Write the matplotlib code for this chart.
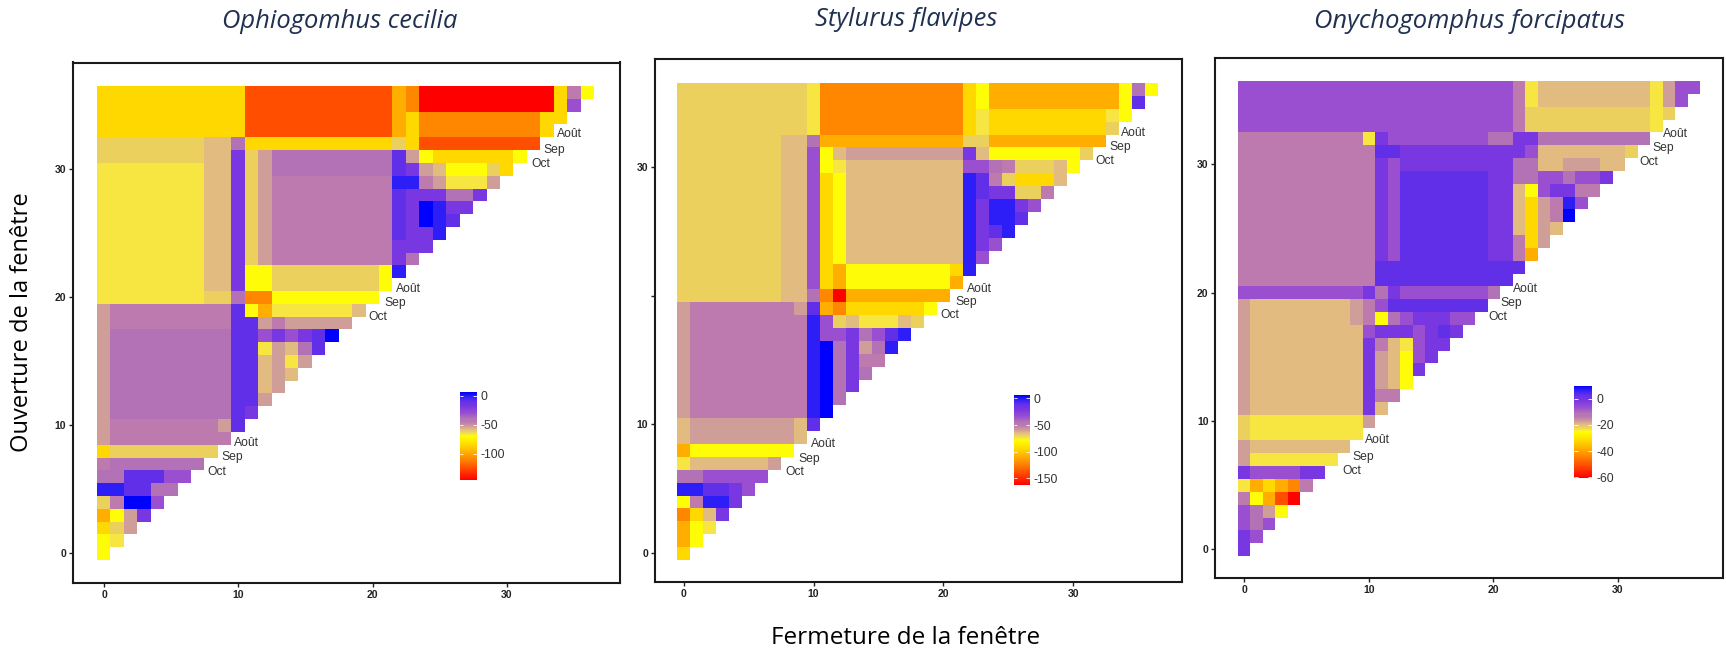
import matplotlib
matplotlib.use("Agg")
import matplotlib.pyplot as plt
import numpy as np
from matplotlib.colors import LinearSegmentedColormap, Normalize

W, H = 1726, 653

# levels: 0 = bright blue top of the colour bar, 1 = red bottom
levels = dict(A=0.0, B=0.05, C=0.10, D=0.16, E=0.24, F=0.30, G=0.34, H=0.39, I=0.42,
              J=0.45, K=0.48, L=0.50, M=0.60, N=0.68, O=0.76, P=0.86, Q=1.0)
colours = ["#0000ff", "#3020f8", "#6530e8", "#7a38e0", "#9a50d0", "#b474b6", "#bc7ab0",
           "#d0a098", "#e2bc80", "#ecd060", "#f8e840", "#ffff00", "#ffd800", "#ffb000",
           "#ff8800", "#ff5000", "#ff0000"]

# each row is written from y=36 down to y=0, as letter + run length, starting at x=0
rows_cecilia = [
    "M11 P11 N1 O1 Q10 M1 G1 L1",
    "M11 P11 N1 O1 Q10 M1 E1",
    "M11 P11 N1 M1 O9 M2",
    "M11 P11 N1 M1 O9 M1",
    "J8 I2 F1 M11 J1 M1 P9",
    "J8 I2 D1 J1 H1 F9 C1 H1 L1 M6 L1",
    "K8 I2 D1 J1 H1 F9 C1 D1 H1 I1 L3 J1 M1",
    "K8 I2 D1 J1 H1 G9 B2 G1 H1 K3 H1",
    "K8 I2 D1 J1 H1 G9 C1 D1 D2 F2 D1",
    "K8 I2 D1 J1 H1 G9 C1 D1 A1 B1 D2",
    "K8 I2 D1 J1 H1 G9 C1 D1 A1 B1 C1",
    "K8 I2 D1 J1 H1 G9 C1 D1 D1 B1",
    "K8 I2 D1 J1 H1 G9 D3",
    "K8 I2 D1 J1 H1 G9 D1 F1",
    "K8 I2 D1 L2 J8 L1 B1",
    "K8 I2 D1 L2 J8 L1",
    "K8 J2 F1 O2 L8",
    "H1 G9 C1 L1 N1 K6 I1",
    "H1 G9 C2 H1 G1 H5",
    "H1 F9 C2 E1 D1 E1 D1 C1 A1",
    "H1 F9 C2 K1 H1 I1 F1 C1",
    "H1 F9 C2 I1 H1 K1 H1",
    "H1 F9 C2 I1 H1 I1",
    "H1 F9 C2 I1 H1",
    "H1 F9 C2 H1",
    "H1 F9 C1 D1",
    "H1 G8 H1 C1",
    "H1 G9",
    "M1 J8",
    "G1 F7",
    "F2 C3 E2",
    "B2 C2 F2",
    "J1 G1 A2 E1",
    "N1 L1 H1 D1",
    "M1 J1 H1",
    "L1 K1",
    "L1",
]

rows_flavipes = [
    "J10 K1 O11 M1 L1 N10 L1 F1 L1",
    "J10 K1 O11 M1 L1 N10 L1 C1",
    "J10 K1 O11 M1 K1 M9 K1 L1",
    "J10 K1 O11 M1 K1 M9 J1",
    "J8 I2 F1 N11 J2 N9",
    "J8 I2 E1 L1 I1 H9 D1 I1 L7 J1",
    "J8 I2 E1 L1 K1 I9 E2 F1 G1 J3 I1 L1",
    "J8 I2 E1 M1 L1 I9 B1 C1 G1 J1 M3 I1",
    "J8 I2 E1 M1 L1 I9 B1 C1 D2 J2 G1",
    "J8 I2 E1 M1 L1 I9 B1 D1 B2 D1 E1",
    "J8 I2 E1 M1 L1 I9 B1 D1 B2 C1",
    "J8 I2 E1 M1 L1 I9 B1 D1 C1 B1",
    "J8 I2 E1 M1 L1 I9 B1 D1 E1",
    "J8 I2 E1 M1 L1 I9 B1 E1",
    "J8 I2 E1 M1 N1 L8 M1 B1",
    "J8 I2 E1 M1 N1 L8 N1",
    "J8 I2 F1 O1 Q1 N8",
    "H1 G8 H1 C1 N1 O1 M6 L1",
    "H1 G9 B1 E1 J1 I1 K3 I1 J1",
    "H1 G9 B1 E1 E1 D1 F1 E1 C1 B1",
    "H1 G9 B1 A1 F1 D1 H1 F1 B1",
    "H1 G9 B1 A1 F1 D1 G2",
    "H1 G9 B1 A1 F1 D1 F1",
    "H1 G9 B1 A1 F1 D1",
    "H1 G9 B1 A1 F1",
    "H1 G9 B1 A1",
    "I1 H8 I1 C1",
    "I1 H8 I1",
    "N1 L8",
    "K1 I6 H1",
    "F2 E3 E2",
    "B2 C2 D1 E1",
    "L1 G1 B2 D1",
    "O1 M1 I1 D1",
    "N1 L1 K1",
    "N1 L1",
    "M1",
]

rows_forcipatus = [
    "E11 E9 E2 G1 K1 I9 K1 H1 E2",
    "E11 E9 E2 G1 K1 I9 K1 H1 E1",
    "E11 E11 G1 J10 K1 J1",
    "E11 E11 G1 J10 K1",
    "G10 K1 D1 E8 F2 D2 F9",
    "G11 C2 D9 D1 E1 I7 J1",
    "G11 D1 E1 D9 F2 I2 H3 I2",
    "G11 D1 E1 C7 D2 F2 E2 F1 E2 D1",
    "G11 D1 E1 C7 D2 I1 L1 E1 D2 G2",
    "G11 D1 E1 C7 D2 I1 M1 H1 G1 B1 E1",
    "G11 D1 E1 C7 D2 I1 M1 H1 G1 A1",
    "G11 D1 E1 C7 D2 I1 M1 H1 I1",
    "G11 D1 E1 C7 D2 G1 M1 H1",
    "G11 D1 E1 C7 D2 G1 N1",
    "G11 C2 C7 C2 C1",
    "G11 C11",
    "E10 D1 F1 D1 E7 F1",
    "H1 I8 H1 G1 E1 C1 C7",
    "H1 I8 H1 G1 L1 F1 E1 D3 E2",
    "H1 I9 E1 D2 D1 E1 D1 C1 D1",
    "H1 I9 D1 G1 I1 K1 E1 D2",
    "H1 I9 D1 H1 I1 L1 E1 D1",
    "H1 I9 D1 H1 I1 L1 D1",
    "H1 I9 D1 H1 I1 L1",
    "H1 I9 D1 G2",
    "H1 I9 D1 I1",
    "J1 K9 H1",
    "J1 K9",
    "H1 I8",
    "H1 K7",
    "D1 E4 D2",
    "K1 N1 M1 N1 O1 G1",
    "G1 L1 N1 P1 Q1",
    "E1 F1 H1 L1",
    "E1 F1 E1",
    "D1 E1",
    "D1",
]

titles = ["Ophiogomhus cecilia", "Stylurus flavipes", "Onychogomphus forcipatus"]
title_x = [339.7, 906, 1470]
title_y = [21, 19, 21]

# colour scale ends (value at the top and bottom of each colour bar) and its labelled ticks
scale_top = [6, 6, 10]
scale_bottom = [-146, -162, -60.5]
scale_ticks = [[0, -50, -100], [0, -50, -100, -150], [0, -20, -40, -60]]

month_names = ["Août", "Sep", "Oct"] * 3
labels_cecilia = [(33.7, 32.7), (32.7, 31.5), (31.8, 30.4), (21.7, 20.6), (20.9, 19.5),
                  (19.7, 18.4), (9.7, 8.6), (8.7, 7.5), (7.7, 6.3)]
labels_flavipes = [(33.7, 32.6), (32.8, 31.5), (31.7, 30.4), (21.8, 20.5), (20.9, 19.5),
                   (19.8, 18.5), (9.8, 8.5), (8.8, 7.3), (7.8, 6.3)]
labels_forcipatus = [(33.6, 32.4), (32.8, 31.3), (31.7, 30.2), (21.6, 20.3), (20.6, 19.2),
                     (19.6, 18.1), (9.7, 8.5), (8.7, 7.2), (7.9, 6.1)]

# pixel layout of each panel: box (left, right, top, bottom), position of x=0 / y=0, px per unit
boxes = [(73.1, 620, 62.5, 582.7), (655, 1182.3, 59.2, 581.9), (1215.4, 1722.7, 58.4, 578.4)]
origins = [(104.1, 553.1), (683.7, 553.3), (1244.1, 549.1)]
px_unit = [(13.43, 12.81), (12.98, 12.89), (12.46, 12.82)]
bars = [(459.5, 476.7, 392.3, 480.1), (1013.6, 1029.5, 395.2, 484.8), (1574, 1591.9, 385.6, 477.9)]

plt.rcParams["font.family"] = ["Liberation Sans", "DejaVu Sans"]
plt.rcParams["axes.unicode_minus"] = False

# the norm runs low to high, so the colours go red to blue from the bottom up
cmap = LinearSegmentedColormap.from_list("gap", [(levels[k], c) for k, c in zip(levels, colours)]).reversed()


def px_axes(fig, left, right, top, bottom):
    return fig.add_axes([left / W, 1 - bottom / H, (right - left) / W, (bottom - top) / H])


def to_grid(rows, top, bottom):
    grid = np.full((37, 37), np.nan)
    for i, row in enumerate(rows):
        y = 36 - i
        x = 0
        for run in row.split():
            n = int(run[1:])
            grid[y, x:x + n] = top + levels[run[0]] * (bottom - top)
            x += n
        assert x == y + 1, (y, x)
    return grid


fig = plt.figure(figsize=(W / 100, H / 100), dpi=100)
all_rows = [rows_cecilia, rows_flavipes, rows_forcipatus]
all_labels = [labels_cecilia, labels_flavipes, labels_forcipatus]

for p in range(3):
    left, right, top, bottom = boxes[p]
    ox, oy = origins[p]
    sx, sy = px_unit[p]
    ax = px_axes(fig, left, right, top, bottom)
    norm = Normalize(vmin=scale_bottom[p], vmax=scale_top[p])
    grid = to_grid(all_rows[p], scale_top[p], scale_bottom[p])
    im = ax.imshow(grid, origin="lower", cmap=cmap, norm=norm, aspect="auto",
                   extent=(-0.5, 36.5, -0.5, 36.5), interpolation="nearest")
    ax.set_xlim((left - ox) / sx, (right - ox) / sx)
    ax.set_ylim((oy - bottom) / sy, (oy - top) / sy)
    ax.set_xticks([0, 10, 20, 30])
    ax.set_yticks([0, 10, 20, 30])
    if p == 1:
        ax.set_yticklabels(["0", "10", "", "30"])
    ax.tick_params(labelsize=7.5, length=3, width=1, pad=2, colors="#222222")
    for lab in ax.get_xticklabels() + ax.get_yticklabels():
        lab.set_fontweight("bold")
    for s in ax.spines.values():
        s.set_linewidth(1.5)
        s.set_color("#1a1a1a")

    for name, (tx, ty) in zip(month_names, all_labels[p]):
        ax.text(tx, ty, name, fontsize=8.7, color="#333333", ha="left", va="center")

    # colour bar
    cax = px_axes(fig, *bars[p])
    cb = fig.colorbar(im, cax=cax)
    cb.outline.set_visible(False)
    cb.set_ticks(scale_ticks[p])
    cax.tick_params(length=0, labelsize=8.7, pad=3, labelcolor="#333333")
    cax.hlines(scale_ticks[p], 0, 0.2, transform=cax.get_yaxis_transform(), color="white", lw=0.6)
    cax.hlines(scale_ticks[p], 0.8, 1, transform=cax.get_yaxis_transform(), color="white", lw=0.6)

    fig.text(title_x[p] / W, 1 - title_y[p] / H, titles[p], family="Open Sans", style="italic",
             fontsize=18.4, color="#1f3050", ha="center", va="center")

fig.text(22 / W, 1 - 322 / H, "Ouverture de la fenêtre", family="Open Sans", fontsize=17,
         rotation=90, ha="center", va="center", color="black")
fig.text(905.7 / W, 1 - 638 / H, "Fermeture de la fenêtre", family="Open Sans", fontsize=17.5,
         ha="center", va="center", color="black")

fig.savefig("out.png", dpi=100)
